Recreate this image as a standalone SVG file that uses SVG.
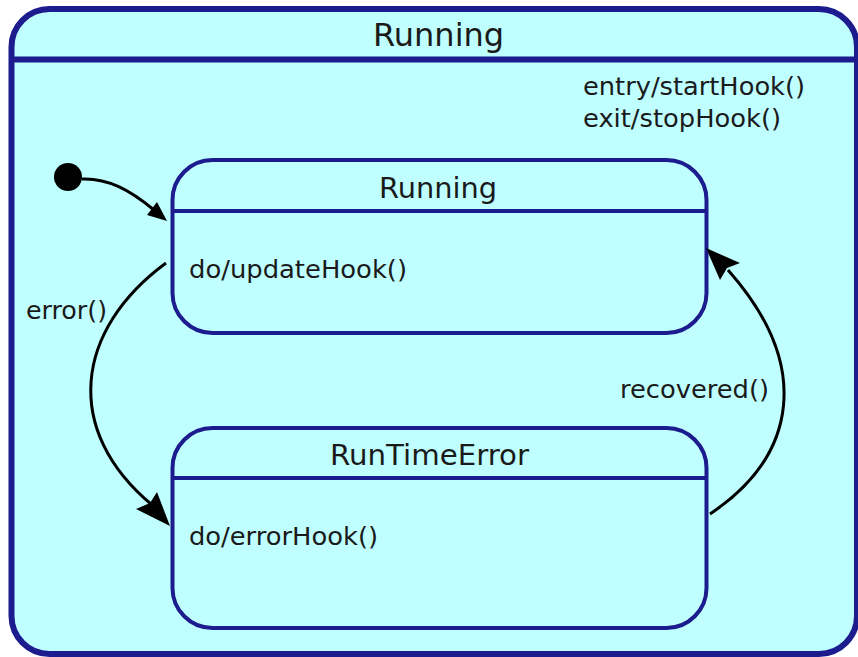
<svg xmlns="http://www.w3.org/2000/svg" width="858" height="657" viewBox="0 0 858 657">
<defs>
<style>
.state{fill:#bfffff;stroke:#1c1c8e;}
.outer{stroke-width:6;}
.inner{stroke-width:4;}
.sep{stroke:#1c1c8e;fill:none;}
.t{font-family:"DejaVu Sans",Verdana,sans-serif;fill:#1a1a1a;}
.title{font-size:32px;}
.name{font-size:28px;}
.act{font-size:24px;}
.edge{fill:none;stroke:#000;stroke-width:3;}
.head{fill:#000;stroke:none;}
</style>
</defs>
<rect width="858" height="657" fill="#ffffff"/>
<g id="outer">
<rect class="state outer" x="11.5" y="9" width="845.5" height="645" rx="38" ry="38"/>
<line class="sep" x1="11.5" y1="59.5" x2="857" y2="59.5" stroke-width="6"/>
<text class="t title" x="373" y="46">Running</text>
<text class="t act" x="583" y="95" textLength="222" lengthAdjust="spacingAndGlyphs">entry/startHook()</text>
<text class="t act" x="583" y="127" textLength="198" lengthAdjust="spacingAndGlyphs">exit/stopHook()</text>
</g>
<g id="initial">
<circle cx="68" cy="177" r="14" fill="#000"/>
</g>
<g id="running">
<rect class="state inner" x="172.5" y="160" width="534" height="173" rx="40" ry="40"/>
<line class="sep" x1="172.5" y1="211" x2="706.5" y2="211" stroke-width="4"/>
<text class="t name" x="379" y="198" textLength="118" lengthAdjust="spacingAndGlyphs">Running</text>
<text class="t act" x="189" y="278" textLength="218" lengthAdjust="spacingAndGlyphs">do/updateHook()</text>
</g>
<g id="runtimeerror">
<rect class="state inner" x="172.5" y="428" width="534" height="200" rx="40" ry="40"/>
<line class="sep" x1="172.5" y1="478" x2="706.5" y2="478" stroke-width="4"/>
<text class="t name" x="330" y="465" textLength="199" lengthAdjust="spacingAndGlyphs">RunTimeError</text>
<text class="t act" x="189" y="545" textLength="189" lengthAdjust="spacingAndGlyphs">do/errorHook()</text>
</g>
<g id="connectors">
<path class="edge" d="M82,179 C108,178 130,190 154,210"/>
<polygon class="head" points="167,221 147,215 157,202"/>
<path class="edge" d="M166,263 C75,330 62,430 152,505"/>
<polygon class="head" points="170,526 136,509 150,503 157,492"/>
<text class="t act" x="26" y="319" textLength="81" lengthAdjust="spacingAndGlyphs">error()</text>
<path class="edge" d="M710,514 C798,455 812,365 728,270"/>
<polygon class="head" points="706,248 740,263 727,268 720,280"/>
<text class="t act" x="620" y="398" textLength="149" lengthAdjust="spacingAndGlyphs">recovered()</text>
</g>
</svg>
